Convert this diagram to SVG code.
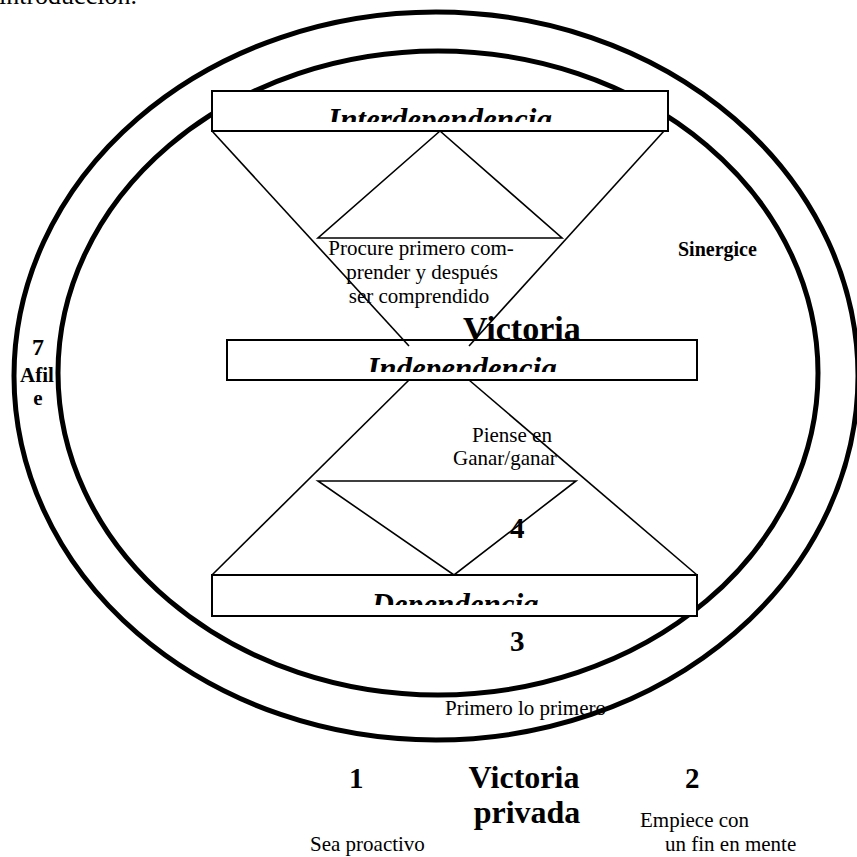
<svg xmlns="http://www.w3.org/2000/svg" width="857" height="857" viewBox="0 0 857 857">
<style>
.t{font-family:"Liberation Serif","Times New Roman",serif;fill:#000}
.r{font-size:21px}
.b{font-weight:bold}
.bi{font-weight:bold;font-style:italic;font-size:31px}
.ell{fill:none;stroke:#000;stroke-width:5}
.box{fill:#fff;stroke:#000;stroke-width:2}
.ln{fill:none;stroke:#000;stroke-width:1.6}
</style>
<defs>
<clipPath id="c1"><rect x="213" y="92" width="454" height="30"/></clipPath>
<clipPath id="c2"><rect x="228" y="341" width="468" height="31"/></clipPath>
<clipPath id="c3"><rect x="213" y="576" width="483" height="29"/></clipPath>
</defs>
<rect width="857" height="857" fill="#fff"/>
<text class="t" x="-1" y="4" font-size="26">introducción.</text>
<g id="labels-behind">
<text class="t r" x="445" y="715">Primero lo primero</text>
</g>
<g id="ellipses">
<ellipse id="outer" class="ell" cx="436" cy="376" rx="422" ry="364"/>
<ellipse id="inner" class="ell" cx="438" cy="373" rx="380" ry="322"/>
</g>
<g id="interdependencia">
<rect class="box" x="212" y="91" width="456" height="40"/>
<text class="t bi" x="440" y="130" text-anchor="middle" clip-path="url(#c1)">Interdependencia</text>
</g>
<g id="victoria-publica">
<text class="t b" x="463" y="340" font-size="34">Victoria</text>
</g>
<g id="independencia">
<rect class="box" x="227" y="340" width="470" height="40"/>
<text class="t bi" x="462" y="379" text-anchor="middle" clip-path="url(#c2)">Independencia</text>
</g>
<g id="dependencia">
<rect class="box" x="212" y="575" width="485" height="41"/>
<text class="t bi" x="455" y="615" text-anchor="middle" clip-path="url(#c3)">Dependencia</text>
</g>
<g id="connectors">
<polygon class="ln" points="440,131 318,238 562,238"/>
<polygon class="ln" points="318,481 576,481 454,575"/>
<line class="ln" x1="212" y1="131" x2="409" y2="346"/>
<line class="ln" x1="664" y1="131" x2="469" y2="346"/>
<line class="ln" x1="409" y1="380" x2="212" y2="575"/>
<line class="ln" x1="469" y1="380" x2="697" y2="575"/>
</g>
<g id="procure">
<text class="t r" text-anchor="middle"><tspan x="421" y="255">Procure primero com-</tspan><tspan x="422" y="279">prender  y después</tspan><tspan x="419" y="303">ser comprendido</tspan></text>
</g>
<g id="sinergice"><text class="t b" x="678" y="256" font-size="20">Sinergice</text></g>
<g id="afile">
<text class="t b" x="38" y="355" font-size="24" text-anchor="middle">7</text>
<text class="t b" x="37" y="382" font-size="21" text-anchor="middle">Afil</text>
<text class="t b" x="38" y="405" font-size="21" text-anchor="middle">e</text>
</g>
<g id="piense">
<text class="t r"><tspan x="472" y="442">Piense en</tspan><tspan x="453" y="465">Ganar/ganar</tspan></text>
</g>
<g id="n4"><text class="t b" x="510" y="538" font-size="29">4</text></g>
<g id="n3"><text class="t b" x="510" y="651" font-size="29">3</text></g>
<g id="n1"><text class="t b" x="349" y="788" font-size="29">1</text></g>
<g id="n2"><text class="t b" x="685" y="788" font-size="29">2</text></g>
<g id="victoria-privada">
<text class="t b" font-size="32" text-anchor="middle"><tspan x="524" y="788">Victoria</tspan><tspan x="527" y="823">privada</tspan></text>
</g>
<g id="proactivo"><text class="t r" x="310" y="851">Sea proactivo</text></g>
<g id="empiece">
<text class="t r"><tspan x="640" y="827">Empiece con</tspan><tspan x="665" y="851">un fin en mente</tspan></text>
</g>
</svg>
